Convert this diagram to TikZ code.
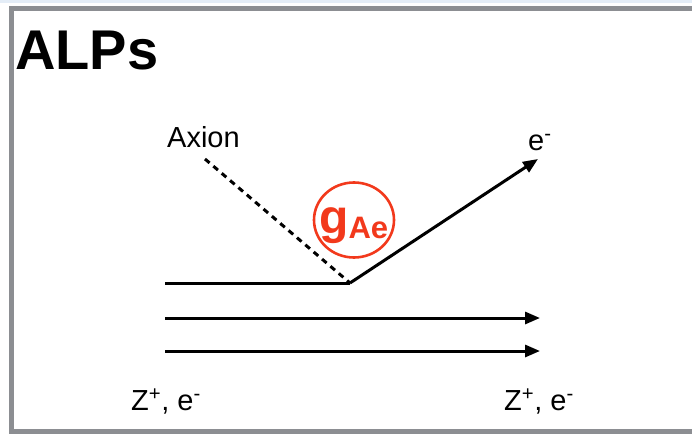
\documentclass[tikz,border=0pt]{standalone}
\usepackage{fontspec}
\setmainfont{Liberation Sans}
\usepackage{xcolor}
\usepackage{tikz}
\usetikzlibrary{arrows.meta,shapes.geometric}
\definecolor{alpFrame}{HTML}{8C8E92}
\definecolor{alpBand}{HTML}{E4EDF7}
\definecolor{alpRed}{HTML}{F2391C}
\tikzset{
  ptext/.style={inner sep=0pt,anchor=base west,font=\fontsize{29}{34}\selectfont},
  titletext/.style={inner sep=0pt,anchor=base west,font=\fontsize{56}{60}\selectfont\bfseries},
  line/.style={line width=3pt},
  arrow/.style={line width=3pt,-{Triangle[length=15pt,width=12pt]}},
  axionline/.style={line width=3pt,dash pattern=on 6pt off 5pt},
  coupling/.style={ellipse,draw=alpRed,line width=2.6pt,inner sep=0pt,
    minimum width=80pt,minimum height=75pt},
  couplingtext/.style={inner sep=0pt,anchor=base west,text=alpRed,font=\bfseries}
}

\begin{document}
\begin{tikzpicture}[x=1pt,y=-1pt]
\useasboundingbox (0,0) rectangle (692,433);
% frame
\fill[alpBand] (0,0) rectangle (692,3);
\draw[alpFrame,line width=5pt] (11,8.5) rectangle (710,431);

\node[titletext] (title) at (15,70) {ALPs};

% vertex
\coordinate (vtx) at (350,283);
\coordinate (axin) at (205,159);
\coordinate (eout) at (538,159);
\coordinate (zinA) at (165,283);
\coordinate (zinB) at (165,318);
\coordinate (zoutB) at (540,318);
\coordinate (zinC) at (165,351);
\coordinate (zoutC) at (540,351);

\node[ptext] (axion) at (167,147) {Axion};
\node[ptext] (eminus) at (528,150) {e\textsuperscript{-}};
\node[ptext] (zleft) at (131,410) {Z\textsuperscript{+}, e\textsuperscript{-}};
\node[ptext] (zright) at (504,410) {Z\textsuperscript{+}, e\textsuperscript{-}};

\node[coupling] (gae) at (354,220) {};
\node[couplingtext] (gaetext) at (319,233)
  {{\fontsize{48}{48}\selectfont g}\raisebox{-5pt}{\fontsize{31}{31}\selectfont Ae}};

\draw[axionline] (axin) -- (vtx);
\draw[line] (zinA) -- (vtx);
\draw[arrow] (vtx) -- (eout);
\draw[arrow] (zinB) -- (zoutB);
\draw[arrow] (zinC) -- (zoutC);
\end{tikzpicture}
\end{document}
